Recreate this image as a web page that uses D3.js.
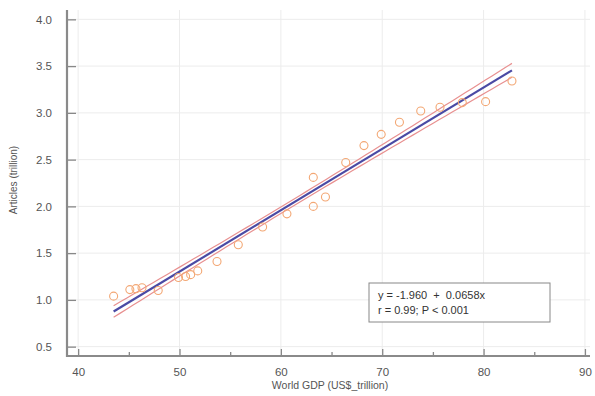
<!DOCTYPE html>
<html><head><meta charset="utf-8">
<script src="https://cdn.jsdelivr.net/npm/d3@7"></script>
<style>body{margin:0;background:#fff}svg{display:block}</style>
</head><body><svg id="c" width="595" height="396"></svg>
<script>
const gdp = [43.5,45.1,45.7,46.3,47.9,49.9,50.6,51.1,51.8,53.7,55.8,58.2,60.6,63.2,63.2,64.4,66.4,68.2,69.9,71.7,73.8,75.7,77.9,80.2,82.8];
const articles = [1.04,1.11,1.12,1.13,1.10,1.24,1.25,1.27,1.31,1.41,1.59,1.78,1.92,2.00,2.31,2.10,2.47,2.65,2.77,2.90,3.02,3.06,3.11,3.12,3.34];
const xTicks = [40,50,60,70,80,90];
const xMinor = [45,55,65,75,85];
const yTicks = [0.5,1.0,1.5,2.0,2.5,3.0,3.5,4.0];
const eqLines = ["y = -1.960  +  0.0658x", "r = 0.99; P < 0.001"];
const xTitle = "World GDP (US$_trillion)";
const yTitle = "Articles (trillion)";

const svg = d3.select("#c");
const x = d3.scaleLinear().domain([38.9,90.5]).range([67,590]);
const y = d3.scaleLinear().domain([0.4,4.1]).range([356,10]);
const font = "Liberation Sans, Arial, sans-serif";

// grid
svg.append("g").selectAll("line").data(xTicks).join("line")
  .attr("x1",d=>x(d)).attr("x2",d=>x(d)).attr("y1",10).attr("y2",356)
  .attr("stroke","#ececec").attr("stroke-width",1);
svg.append("g").selectAll("line").data(yTicks).join("line")
  .attr("x1",67).attr("x2",590).attr("y1",d=>y(d)).attr("y2",d=>y(d))
  .attr("stroke","#ececec").attr("stroke-width",1);

// regression
const n = gdp.length;
const mx = d3.mean(gdp), my = d3.mean(articles);
let sxx=0, sxy=0;
for(let i=0;i<n;i++){sxx+=(gdp[i]-mx)**2; sxy+=(gdp[i]-mx)*(articles[i]-my);}
const b = sxy/sxx, a = my-b*mx;
let sse=0; for(let i=0;i<n;i++){sse+=(articles[i]-a-b*gdp[i])**2;}
const s = Math.sqrt(sse/(n-2));
const t = 1.4;
const x0 = d3.min(gdp), x1 = d3.max(gdp);
const xs = d3.range(0,61).map(i=>x0+(x1-x0)*i/60);
const half = xv => t*s*Math.sqrt(1/n+(xv-mx)**2/sxx);
const line = d3.line().x(d=>x(d[0])).y(d=>y(d[1]));

svg.append("path").attr("d",line(xs.map(v=>[v,a+b*v+half(v)])))
  .attr("fill","none").attr("stroke","#e89090").attr("stroke-width",1.2);
svg.append("path").attr("d",line(xs.map(v=>[v,a+b*v-half(v)])))
  .attr("fill","none").attr("stroke","#e89090").attr("stroke-width",1.2);
svg.append("path").attr("d",line([[x0,a+b*x0],[x1,a+b*x1]]))
  .attr("fill","none").attr("stroke","#4a4aa4").attr("stroke-width",2.2);

// points
svg.append("g").selectAll("circle").data(gdp).join("circle")
  .attr("cx",(d)=>x(d)).attr("cy",(d,i)=>y(articles[i])).attr("r",4)
  .attr("fill","none").attr("stroke","#f3a774").attr("stroke-width",1.1);

// axes
const ax = svg.append("g").attr("transform","translate(0,356)")
  .call(d3.axisBottom(x).tickValues(xTicks).tickSize(-7).tickFormat(d3.format("d")).tickPadding(12));
ax.append("g").call(d3.axisBottom(x).tickValues(xMinor).tickSize(-4).tickFormat(""));
ax.selectAll(".domain").remove();
const ay = svg.append("g").attr("transform","translate(67,0)")
  .call(d3.axisLeft(y).tickValues(yTicks).tickSize(-9).tickFormat(d3.format(".1f")).tickPadding(15));
ay.selectAll(".domain").remove();
svg.selectAll(".tick line").attr("stroke","#888").attr("stroke-width",1.3);
svg.selectAll(".tick text").attr("fill","#555").attr("font-size",11.5).attr("font-family",font);
svg.append("line").attr("x1",67).attr("x2",590).attr("y1",356).attr("y2",356).attr("stroke","#8a8a8a").attr("stroke-width",2.2);
svg.append("line").attr("x1",67).attr("x2",67).attr("y1",10).attr("y2",357).attr("stroke","#8a8a8a").attr("stroke-width",2.2);

// titles
svg.append("text").attr("x",330).attr("y",389).attr("text-anchor","middle")
  .attr("font-size",10.5).attr("font-family",font).attr("fill","#555").text(xTitle);
svg.append("text").attr("transform","translate(17,180) rotate(-90)").attr("text-anchor","middle")
  .attr("font-size",10).attr("font-family",font).attr("fill","#555").text(yTitle);

// equation box
svg.append("rect").attr("x",369).attr("y",283).attr("width",181).attr("height",39)
  .attr("fill","#fff").attr("stroke","#888").attr("stroke-width",1);
svg.append("g").selectAll("text").data(eqLines).join("text")
  .attr("x",378).attr("y",(d,i)=>299+i*15)
  .attr("font-size",11).attr("font-family",font).attr("fill","#333")
  .attr("xml:space","preserve").style("white-space","pre").text(d=>d);
</script></body></html>
